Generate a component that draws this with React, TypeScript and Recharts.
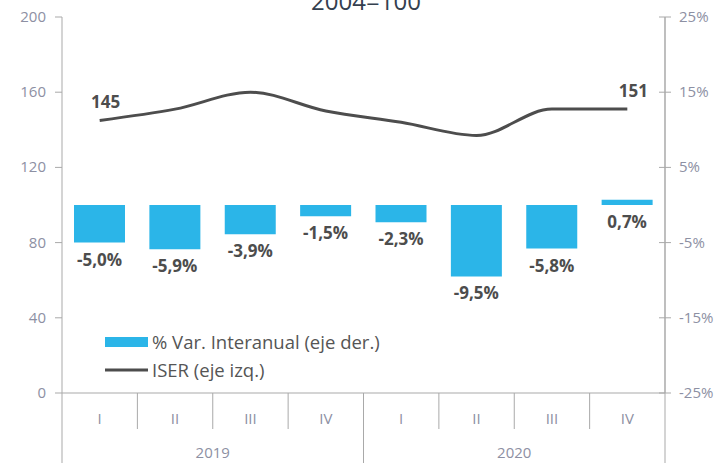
import React from "react"
import {
  ComposedChart,
  Bar,
  Line,
  XAxis,
  YAxis,
  Legend,
  LabelList,
  Customized,
} from "recharts"

const quarters = ["I", "II", "III", "IV", "I", "II", "III", "IV"]
const years = ["2019", "2019", "2019", "2019", "2020", "2020", "2020", "2020"]
const varInteranual = [-5.0, -5.9, -3.9, -1.5, -2.3, -9.5, -5.8, 0.7]
const iser = [145, 151, 160, 150, 144, 137, 151, 151]
const leftTicks = [0, 40, 80, 120, 160, 200]
const rightTicks = [-25, -15, -5, 5, 15, 25]

const data = quarters.map((q, i) => ({
  key: `${years[i]}-${q}-${i}`,
  q,
  year: years[i],
  varia: varInteranual[i],
  iser: iser[i],
}))

const W = 724
const H = 463
const LEFT_W = 62
const RIGHT_W = 59
const TOP = 17
const XAXIS_H = 70
const BAND = (W - LEFT_W - RIGHT_W) / data.length

const FONT = "'Open Sans', sans-serif"
const AXIS = "#a9a9a9"
const TICK_TXT = "#8d90a3"
const DARK = "#4d4d4d"
const BLUE = "#2bb5e8"

const fmtPct = (v: number) => `${v.toFixed(1).replace(".", ",")}%`

const QuarterTick = (props: any) => {
  const { x, y, index } = props
  const left = x - BAND / 2
  const right = x + BAND / 2
  const newYear = index === 0 || index === 4
  return (
    <g>
      <line x1={left} x2={left} y1={y} y2={newYear ? H : y + 36} stroke={AXIS} strokeWidth={1} />
      {index === data.length - 1 && <line x1={right} x2={right} y1={y - 376} y2={H} stroke={AXIS} strokeWidth={1} />}
      <text x={x} y={y + 31} textAnchor="middle" fontSize={15} fill={TICK_TXT} fontFamily={FONT}>
        {data[index].q}
      </text>
      {newYear && (
        <text x={x + 1.5 * BAND} y={y + 65} textAnchor="middle" fontSize={15} fill={TICK_TXT} fontFamily={FONT}>
          {data[index].year}
        </text>
      )}
    </g>
  )
}

const LeftTick = (props: any) => {
  const { x, y, payload } = props
  return (
    <g>
      <line x1={x - 7} x2={x} y1={y} y2={y} stroke={AXIS} />
      <text x={x - 16} y={y + 5} textAnchor="end" fontSize={15} fill={TICK_TXT} fontFamily={FONT}>
        {payload.value}
      </text>
    </g>
  )
}

const RightTick = (props: any) => {
  const { x, y, payload } = props
  return (
    <g>
      <line x1={x - 6} x2={x + 6} y1={y} y2={y} stroke={AXIS} />
      <text x={x + 14} y={y + 5} textAnchor="start" fontSize={15} fill={TICK_TXT} fontFamily={FONT}>
        {`${payload.value}%`}
      </text>
    </g>
  )
}

const BarLabel = (props: any) => {
  const { x, y, width, height, value } = props
  const bottom = Math.max(y, y + height)
  return (
    <text x={x + width / 2} y={bottom + 23} textAnchor="middle" fontSize={17} fontWeight={700} fill={DARK} fontFamily={FONT}>
      {fmtPct(value)}
    </text>
  )
}

const LineLabel = (props: any) => {
  const { x, y, value, index } = props
  if (index !== 0 && index !== data.length - 1) return null
  return (
    <text x={x + 6} y={y - 12} textAnchor="middle" fontSize={17} fontWeight={700} fill={DARK} fontFamily={FONT}>
      {value}
    </text>
  )
}

const LegendBox = () => (
  <svg width={340} height={56} style={{ overflow: "visible" }}>
    <rect x={0} y={2} width={43} height={10} fill={BLUE} />
    <text x={47} y={14} fontSize={18.5} fill="#555" fontFamily={FONT}>% Var. Interanual (eje der.)</text>
    <line x1={0} x2={43} y1={35} y2={35} stroke={DARK} strokeWidth={3} />
    <text x={47} y={42} fontSize={18.5} fill="#555" fontFamily={FONT}>ISER (eje izq.)</text>
  </svg>
)

const Title = () => (
  <text x={366} y={10} textAnchor="middle" fontSize={24} fill="#34404f" fontFamily={FONT}>
    2004=100
  </text>
)

export default function App() {
  return (
    <div style={{ position: "absolute", left: 0, top: 0, width: W, height: H, background: "#fff" }}>
      <ComposedChart
        width={W}
        height={H}
        data={data}
        margin={{ top: TOP, right: 0, left: 0, bottom: 0 }}
        barCategoryGap={0}
      >
        <XAxis
          dataKey="key"
          height={XAXIS_H}
          tickLine={false}
          tickSize={0}
          tickMargin={0}
          interval={0}
          axisLine={{ stroke: AXIS }}
          tick={<QuarterTick />}
        />
        <YAxis
          yAxisId="left"
          orientation="left"
          width={LEFT_W}
          domain={[0, 200]}
          ticks={leftTicks}
          tickLine={false}
          tickSize={0}
          tickMargin={0}
          axisLine={{ stroke: AXIS }}
          tick={<LeftTick />}
        />
        <YAxis
          yAxisId="right"
          orientation="right"
          width={RIGHT_W}
          domain={[-25, 25]}
          ticks={rightTicks}
          tickLine={false}
          tickSize={0}
          tickMargin={0}
          axisLine={{ stroke: AXIS }}
          tick={<RightTick />}
        />
        <Bar yAxisId="right" dataKey="varia" fill={BLUE} barSize={51} isAnimationActive={false}>
          <LabelList dataKey="varia" content={<BarLabel />} />
        </Bar>
        <Line
          yAxisId="left"
          type="monotone"
          dataKey="iser"
          stroke={DARK}
          strokeWidth={3}
          dot={false}
          isAnimationActive={false}
        >
          <LabelList dataKey="iser" content={<LineLabel />} />
        </Line>
        <Legend
          layout="vertical"
          align="center"
          verticalAlign="middle"
          content={<LegendBox />}
          wrapperStyle={{ position: "absolute", left: 105, top: 335, width: 340, height: 56 }}
        />
        <Customized component={<Title />} />
      </ComposedChart>
    </div>
  )
}
